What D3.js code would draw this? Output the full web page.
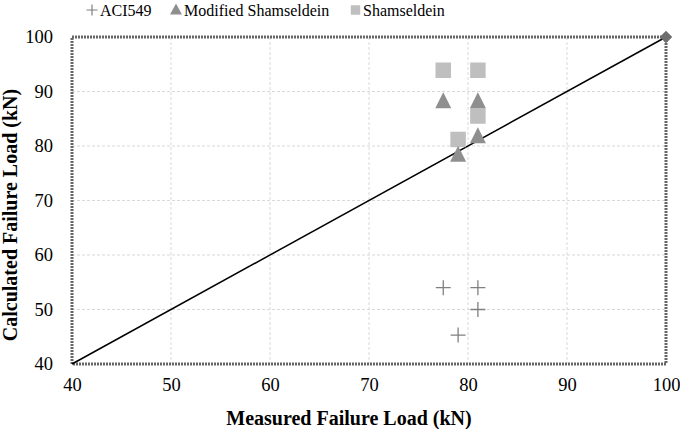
<!DOCTYPE html>
<meta charset="utf-8">
<style type="text/css">
	body { margin: 0; background: #fff; }
	svg text { font-family: "Liberation Serif", "Times New Roman", serif; fill: #000; }
	.grid line { stroke: #d9d9d9; stroke-dasharray: 3,2; }
	.axis text { font-size: 18.5px; }
	.axis path, .axis line { display: none; }
	.label { font-size: 20px; font-weight: bold; }
	.legend text { font-size: 16px; }
</style>
<body></body>
<script src="https://d3js.org/d3.v7.min.js"></script>
<script>

	// measured (x) vs calculated (y) failure loads, kN
	var aciX = [77.5, 81, 81, 79];
	var aciY = [54, 54, 50, 45.3];

	var modX = [77.5, 81, 81, 79];
	var modY = [88.2, 88.2, 81.8, 78.4];

	var shamX = [77.5, 81, 81, 79];
	var shamY = [93.9, 93.9, 85.5, 81.2];

	var refLine = [40, 100];
	var xTicks = [40, 50, 60, 70, 80, 90, 100];
	var yTicks = [40, 50, 60, 70, 80, 90, 100];

	var margin = {top: 37, right: 14, bottom: 65, left: 72};
	var width = 680 - margin.left - margin.right;
	var height = 429 - margin.top - margin.bottom;

	var svg = d3.select("body").append("svg")
		.attr("width", 680)
		.attr("height", 429);

	var g = svg.append("g")
		.attr("transform", "translate(" + margin.left + "," + margin.top + ")");

	var xScale = d3.scaleLinear().domain([40, 100]).range([0, width]);
	var yScale = d3.scaleLinear().domain([40, 100]).range([height, 0]);

	// grid
	g.append("g").attr("class", "grid")
		.selectAll("line").data(xTicks.slice(1, -1)).enter().append("line")
		.attr("x1", function(d) { return xScale(d); })
		.attr("x2", function(d) { return xScale(d); })
		.attr("y1", 0).attr("y2", height);

	g.append("g").attr("class", "grid")
		.selectAll("line").data(yTicks.slice(1, -1)).enter().append("line")
		.attr("y1", function(d) { return yScale(d); })
		.attr("y2", function(d) { return yScale(d); })
		.attr("x1", 0).attr("x2", width);

	// frame
	g.append("rect")
		.attr("width", width).attr("height", height)
		.attr("fill", "none")
		.attr("stroke", "#666")
		.attr("stroke-width", 3)
		.attr("stroke-dasharray", "2,1");

	g.append("g").attr("class", "x axis")
		.attr("transform", "translate(0," + height + ")")
		.call(d3.axisBottom(xScale).tickValues(xTicks).tickSize(0).tickPadding(14));

	g.append("g").attr("class", "y axis")
		.call(d3.axisLeft(yScale).tickValues(yTicks).tickSize(0).tickPadding(19));

	// 1:1 line
	g.append("line")
		.attr("x1", xScale(refLine[0])).attr("y1", yScale(refLine[0]))
		.attr("x2", xScale(refLine[1])).attr("y2", yScale(refLine[1]))
		.attr("stroke", "#000").attr("stroke-width", 1.5);

	g.append("path")
		.attr("d", d3.symbol().type(d3.symbolDiamond2).size(100)())
		.attr("transform", "translate(" + xScale(refLine[1]) + "," + yScale(refLine[1]) + ")")
		.attr("fill", "#6e6e6e");

	var sq = d3.symbol().type(d3.symbolSquare).size(240);
	var tri = "M0,-9L8,7H-8Z";
	var cross = "M-7.5,0H7.5M0,-7.5V7.5";

	g.selectAll(".sham").data(shamX).enter().append("path")
		.attr("class", "sham")
		.attr("d", sq)
		.attr("fill", "#bfbfbf")
		.attr("transform", function(d, i) { return "translate(" + xScale(d) + "," + yScale(shamY[i]) + ")"; });

	g.selectAll(".mod").data(modX).enter().append("path")
		.attr("class", "mod")
		.attr("d", tri)
		.attr("fill", "#8f8f8f")
		.attr("transform", function(d, i) { return "translate(" + xScale(d) + "," + yScale(modY[i]) + ")"; });

	g.selectAll(".aci").data(aciX).enter().append("path")
		.attr("class", "aci")
		.attr("d", cross)
		.attr("stroke", "#808080").attr("stroke-width", 1.3)
		.attr("fill", "none")
		.attr("transform", function(d, i) { return "translate(" + xScale(d) + "," + yScale(aciY[i]) + ")"; });

	// axis titles
	svg.append("text").attr("class", "label")
		.attr("x", 349).attr("y", 425)
		.attr("text-anchor", "middle")
		.text("Measured Failure Load (kN)");

	svg.append("text").attr("class", "label")
		.attr("transform", "translate(17,215) rotate(-90)")
		.attr("text-anchor", "middle")
		.text("Calculated Failure Load (kN)");

	// legend
	var legend = svg.append("g").attr("class", "legend");
	legend.append("path").attr("d", "M-5.5,0H5.5M0,-5.5V5.5")
		.attr("stroke", "#808080").attr("stroke-width", 1.2)
		.attr("transform", "translate(92,10)");
	legend.append("text").attr("x", 100).attr("y", 16).text("ACI549");
	legend.append("path").attr("d", "M0,-6L6,5H-6Z")
		.attr("fill", "#8f8f8f").attr("transform", "translate(176,9.5)");
	legend.append("text").attr("x", 184).attr("y", 16).text("Modified Shamseldein");
	legend.append("path").attr("d", d3.symbol().type(d3.symbolSquare).size(90)())
		.attr("fill", "#bfbfbf").attr("transform", "translate(355.5,10)");
	legend.append("text").attr("x", 363).attr("y", 16).text("Shamseldein");

</script>
